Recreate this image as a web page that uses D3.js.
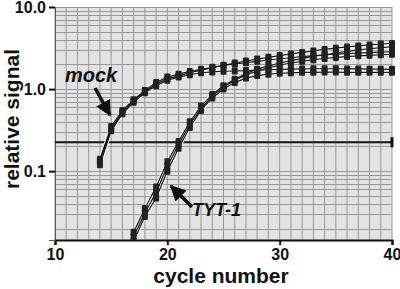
<!DOCTYPE html>
<html>
<head>
  <meta charset="utf-8" />
  <title>relative signal</title>
  <style>
    body { margin: 0; background: #fff; }
    svg { display: block; font-family: "Liberation Sans", Arial, sans-serif; font-weight: bold; }
  </style>
  <script src="https://cdnjs.cloudflare.com/ajax/libs/d3/7.8.5/d3.min.js"></script>
</head>
<body>
  <div id="chart"></div>
  <script>
    // cycles and replicate readings
    var mockCycles = d3.range(14, 41);
    var mockA = [0.13, 0.33, 0.52, 0.72, 0.93, 1.15, 1.33, 1.45, 1.58, 1.7, 1.82, 1.95, 2.08, 2.2, 2.32, 2.44, 2.56, 2.68, 2.8, 2.92, 3.04, 3.15, 3.26, 3.36, 3.45, 3.54, 3.6];
    var mockB = [0.14, 0.35, 0.55, 0.74, 0.96, 1.2, 1.4, 1.52, 1.64, 1.74, 1.84, 1.94, 2.02, 2.1, 2.18, 2.26, 2.34, 2.41, 2.48, 2.55, 2.6, 2.66, 2.7, 2.74, 2.78, 2.82, 2.85];
    var mockC = [0.12, 0.31, 0.5, 0.69, 0.9, 1.1, 1.28, 1.4, 1.5, 1.58, 1.62, 1.65, 1.66, 1.68, 1.7, 1.72, 1.74, 1.75, 1.76, 1.77, 1.77, 1.77, 1.76, 1.76, 1.75, 1.75, 1.74];
    var tytCycles = d3.range(17, 41);
    var tytA = [0.018, 0.035, 0.064, 0.13, 0.23, 0.4, 0.62, 0.86, 1.1, 1.32, 1.55, 1.75, 1.92, 2.08, 2.22, 2.35, 2.5, 2.62, 2.75, 2.88, 3.0, 3.1, 3.2, 3.28];
    var tytB = [0.016, 0.031, 0.055, 0.115, 0.21, 0.37, 0.58, 0.82, 1.06, 1.28, 1.48, 1.66, 1.82, 1.96, 2.08, 2.18, 2.28, 2.36, 2.43, 2.49, 2.54, 2.58, 2.62, 2.65];
    var tytC = [0.014, 0.028, 0.047, 0.1, 0.19, 0.34, 0.55, 0.78, 1.0, 1.2, 1.36, 1.46, 1.52, 1.56, 1.58, 1.6, 1.6, 1.61, 1.61, 1.6, 1.6, 1.6, 1.6, 1.6];
    var threshold = 0.225;
    var yTicks = [10, 1, 0.1];
    var yTickLabels = ['10.0', '1.0', '0.1'];
    var xTicks = [10, 20, 30, 40];

    var w = 400, h = 289;
    var pLeft = 55, pRight = 392, pTop = 7, pBottom = 240;

    var xScale = d3.scaleLinear().domain([10, 40]).range([pLeft, pRight]);
    var yScale = d3.scaleLog().domain([0.0145, 10]).range([pBottom, pTop]);

    var svg = d3.select('#chart').append('svg')
      .attr('width', w)
      .attr('height', h);

    svg.append('rect')
      .attr('x', pLeft).attr('y', pTop)
      .attr('width', pRight - pLeft).attr('height', pBottom - pTop)
      .attr('fill', '#e3e3e3');

    // grid: every cycle, and log minor lines
    var minor = [];
    [0.01, 0.1, 1].forEach(function (dec) {
      d3.range(1, 10).forEach(function (k) {
        var v = dec * k;
        if (v >= 0.0145 && v <= 10) minor.push(v);
      });
    });
    minor.push(10);

    svg.append('g').selectAll('line')
      .data(d3.range(10, 41))
      .enter().append('line')
      .attr('x1', d => xScale(d)).attr('x2', d => xScale(d))
      .attr('y1', pTop).attr('y2', pBottom)
      .attr('stroke', '#999').attr('stroke-width', 1);

    svg.append('g').selectAll('line')
      .data(minor)
      .enter().append('line')
      .attr('x1', pLeft).attr('x2', pRight)
      .attr('y1', d => Math.round(yScale(d)) + 0.5).attr('y2', d => Math.round(yScale(d)) + 0.5)
      .attr('stroke', '#999').attr('stroke-width', 1);

    // axes
    var xAxis = d3.axisBottom(xScale).tickValues(xTicks).tickSize(5).tickPadding(4).tickFormat(d3.format('d'));
    var gx = svg.append('g').attr('transform', 'translate(0,' + pBottom + ')').call(xAxis);
    gx.attr('font-size', 16).attr('font-family', null);
    gx.select('.domain').attr('stroke', '#111').attr('stroke-width', 2);
    gx.selectAll('.tick line').attr('stroke', '#111').attr('stroke-width', 2);
    gx.selectAll('text').attr('fill', '#111');

    var yAxis = d3.axisLeft(yScale).tickValues(yTicks).tickSize(6).tickPadding(3)
      .tickFormat((d, i) => yTickLabels[i]);
    var gy = svg.append('g').attr('transform', 'translate(' + pLeft + ',0)').call(yAxis);
    gy.attr('font-size', 16).attr('font-family', null);
    gy.select('.domain').attr('stroke', '#555').attr('stroke-width', 1);
    gy.selectAll('.tick line').attr('stroke', '#111').attr('stroke-width', 2);
    gy.selectAll('text').attr('fill', '#111');

    // threshold line
    svg.append('line')
      .attr('x1', pLeft).attr('x2', pRight)
      .attr('y1', yScale(threshold)).attr('y2', yScale(threshold))
      .attr('stroke', '#111').attr('stroke-width', 2);
    svg.append('line')
      .attr('x1', pRight).attr('x2', pRight)
      .attr('y1', yScale(threshold) - 5).attr('y2', yScale(threshold) + 5)
      .attr('stroke', '#111').attr('stroke-width', 3);

    // curves
    svg.append('clipPath').attr('id', 'plotClip')
      .append('rect').attr('x', pLeft - 5).attr('y', pTop)
      .attr('width', pRight - pLeft + 10).attr('height', pBottom - pTop);

    var series = [
      { cycles: mockCycles, values: mockA },
      { cycles: mockCycles, values: mockB },
      { cycles: mockCycles, values: mockC },
      { cycles: tytCycles, values: tytA },
      { cycles: tytCycles, values: tytB },
      { cycles: tytCycles, values: tytC }
    ];
    series.forEach(function (s) {
      s.points = s.values.map((v, i) => ({ c: s.cycles[i], v: v }));
    });

    var line = d3.line().x(d => xScale(d.c)).y(d => yScale(d.v));
    var plot = svg.append('g').attr('clip-path', 'url(#plotClip)');

    plot.selectAll('.halo').data(series).enter().append('path')
      .attr('d', d => line(d.points))
      .attr('fill', 'none').attr('stroke', '#fff').attr('stroke-width', 3);
    plot.selectAll('.curve').data(series).enter().append('path')
      .attr('d', d => line(d.points))
      .attr('fill', 'none').attr('stroke', '#111').attr('stroke-width', 1.2);

    series.forEach(function (s) {
      plot.append('g').selectAll('rect').data(s.points).enter().append('rect')
        .attr('x', d => xScale(d.c) - 3)
        .attr('y', d => yScale(d.v) - 3.5)
        .attr('width', 6).attr('height', 7)
        .attr('rx', 1)
        .attr('fill', '#222');
    });

    // annotations
    svg.append('defs').append('marker')
      .attr('id', 'head').attr('viewBox', '0 0 10 10')
      .attr('refX', 9).attr('refY', 5)
      .attr('markerWidth', 4.5).attr('markerHeight', 4.5)
      .attr('orient', 'auto')
      .append('path').attr('d', 'M0,0L10,5L0,10Z').attr('fill', '#111');

    svg.append('text').attr('x', 65).attr('y', 82)
      .attr('font-size', 20).attr('font-style', 'italic').attr('fill', '#111')
      .text('mock');
    svg.append('line')
      .attr('x1', 95).attr('y1', 88).attr('x2', 110).attr('y2', 115)
      .attr('stroke', '#111').attr('stroke-width', 3.5).attr('marker-end', 'url(#head)');

    svg.append('text').attr('x', 192).attr('y', 216)
      .attr('font-size', 18).attr('font-style', 'italic').attr('fill', '#111')
      .text('TYT-1');
    svg.append('line')
      .attr('x1', 192).attr('y1', 207).attr('x2', 171).attr('y2', 186)
      .attr('stroke', '#111').attr('stroke-width', 3.5).attr('marker-end', 'url(#head)');

    // axis titles
    svg.append('text')
      .attr('transform', 'translate(19,119) rotate(-90)')
      .attr('text-anchor', 'middle').attr('font-size', 21).attr('fill', '#111')
      .text('relative signal');
    svg.append('text')
      .attr('x', 221).attr('y', 283)
      .attr('text-anchor', 'middle').attr('font-size', 21).attr('fill', '#111')
      .text('cycle number');
  </script>
</body>
</html>
